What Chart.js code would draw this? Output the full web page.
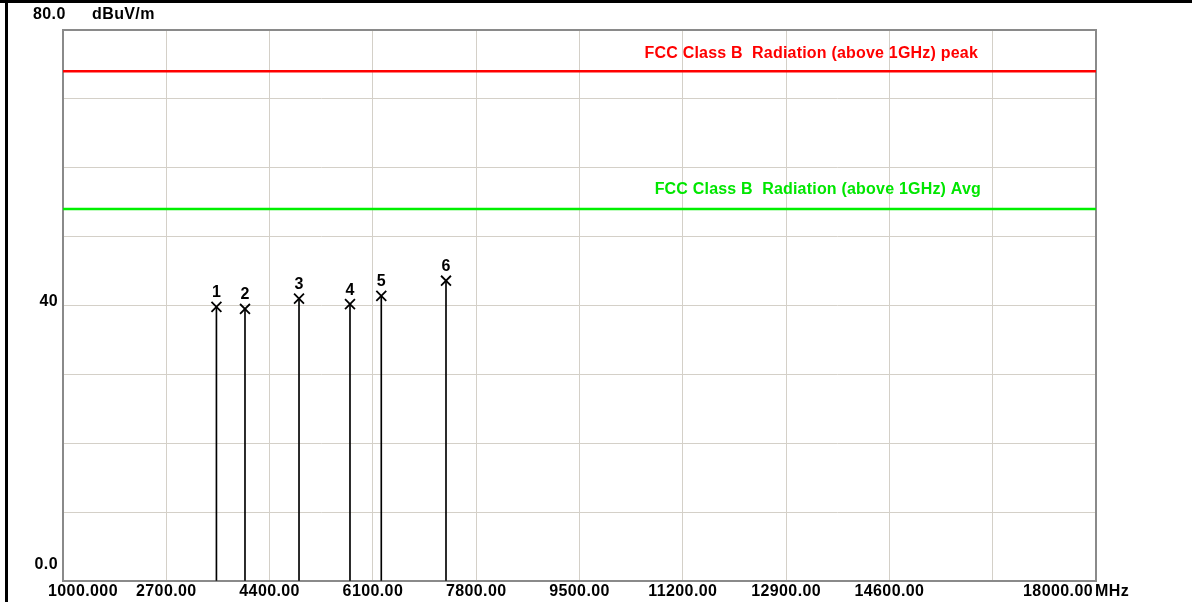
<!DOCTYPE html>
<html>
<head>
<meta charset="utf-8">
<script src="https://cdn.jsdelivr.net/npm/chart.js@4.4.0/dist/chart.umd.min.js"></script>
<style>
    html, body { margin: 0; padding: 0; background: #fff; overflow: hidden; }
    canvas { display: block; }
</style>
</head>
<body>
<canvas id="emiChart" width="1192" height="602"></canvas>
<script>
// Radiated emission scan 1 - 18 GHz

const markerNames = ['1', '2', '3', '4', '5', '6'];
const markerFreq = [3525, 3995, 4884, 5723, 6238, 7303];
const markerLevel = [39.8, 39.5, 41.0, 40.2, 41.4, 43.6];

const limitFreq = [1000, 18000];
const peakLimit = [74, 74];
const avgLimit = [54, 54];
const peakLabel = 'FCC Class B  Radiation (above 1GHz) peak';
const avgLabel = 'FCC Class B  Radiation (above 1GHz) Avg';

const xTicks = [1000, 2700, 4400, 6100, 7800, 9500, 11200, 12900, 14600, 16300, 18000];
const xTickLabels = ['1000.000', '2700.00', '4400.00', '6100.00', '7800.00', '9500.00',
    '11200.00', '12900.00', '14600.00', '', '18000.00'];
const yTicks = [0, 10, 20, 30, 40, 50, 60, 70, 80];
const yTickLabels = ['0.0', '', '', '', '40', '', '', '', '80.0'];

const FONT = 'bold 16px "Liberation Sans", Arial, sans-serif';

// Frame, plot border and all the text
const emiDecor = {
    id: 'emiDecor',
    beforeDatasetsDraw(chart) {
        const { ctx, chartArea: a } = chart;
        ctx.save();
        ctx.strokeStyle = '#8a8a8a';
        ctx.lineWidth = 2;
        ctx.strokeRect(a.left, a.top, a.right - a.left, a.bottom - a.top);
        ctx.restore();
    },
    afterDraw(chart) {
        const { ctx } = chart;
        const xs = chart.scales.x;
        const ys = chart.scales.y;
        ctx.save();

        // page frame
        ctx.fillStyle = '#000';
        ctx.fillRect(0, 0, 1192, 3);
        ctx.fillRect(5, 0, 3, 602);

        ctx.font = FONT;
        ctx.letterSpacing = '0.4px';
        ctx.fillStyle = '#000';
        ctx.textBaseline = 'middle';

        // x labels
        xTicks.forEach((v, i) => {
            const label = xTickLabels[i];
            if (!label) return;
            const px = xs.getPixelForValue(v);
            if (i === 0) {
                ctx.textAlign = 'left';
                ctx.fillText(label, px - 15, 592);
            } else if (i === xTicks.length - 1) {
                ctx.textAlign = 'right';
                ctx.fillText(label, px - 3, 592);
                ctx.textAlign = 'left';
                ctx.fillText('MHz', px - 1, 592);
            } else {
                ctx.textAlign = 'center';
                ctx.fillText(label, px, 592);
            }
        });

        // y labels
        yTicks.forEach((v, i) => {
            const label = yTickLabels[i];
            if (!label) return;
            const py = ys.getPixelForValue(v);
            if (v === 80) {
                ctx.textAlign = 'left';
                ctx.fillText(label, 33, py - 15);
            } else {
                ctx.textAlign = 'right';
                ctx.fillText(label, 58, v === 0 ? py - 16 : py - 4);
            }
        });
        ctx.textAlign = 'left';
        ctx.fillText('dBuV/m', 92, 15);

        // limit line captions
        ctx.letterSpacing = '0.2px';
        ctx.textAlign = 'right';
        ctx.fillStyle = '#ff0000';
        ctx.fillText(peakLabel, 978, ys.getPixelForValue(peakLimit[0]) - 18);
        ctx.fillStyle = '#00e600';
        ctx.fillText(avgLabel, 981, ys.getPixelForValue(avgLimit[0]) - 19);

        // marker numbers
        ctx.fillStyle = '#000';
        ctx.textAlign = 'center';
        markerNames.forEach((n, i) => {
            ctx.fillText(n, xs.getPixelForValue(markerFreq[i]), ys.getPixelForValue(markerLevel[i]) - 14);
        });
        ctx.restore();
    }
};

const points = markerFreq.map((f, i) => ({ x: f, y: markerLevel[i] }));

new Chart(document.getElementById('emiChart'), {
    type: 'scatter',
    data: {
        datasets: [
            {
                type: 'line',
                data: limitFreq.map((f, i) => ({ x: f, y: peakLimit[i] })),
                borderColor: '#ff0000',
                borderWidth: 2.5,
                pointRadius: 0
            },
            {
                type: 'line',
                data: limitFreq.map((f, i) => ({ x: f, y: avgLimit[i] })),
                borderColor: '#00f000',
                borderWidth: 2.5,
                pointRadius: 0
            },
            {
                type: 'bar',
                data: points,
                backgroundColor: '#000',
                barThickness: 1,
                borderWidth: 0
            },
            {
                type: 'scatter',
                data: points,
                pointStyle: 'crossRot',
                pointRadius: 7,
                borderColor: '#000',
                borderWidth: 1.8
            }
        ]
    },
    options: {
        responsive: false,
        animation: false,
        layout: { padding: { top: 30, right: 96, left: 0, bottom: 0 } },
        plugins: {
            legend: { display: false },
            tooltip: { enabled: false }
        },
        scales: {
            x: {
                type: 'linear',
                min: 1000,
                max: 18000,
                offset: false,
                afterBuildTicks(s) { s.ticks = xTicks.map(v => ({ value: v })); },
                afterFit(s) { s.height = 21; },
                ticks: { display: false },
                grid: { color: '#d4d0c8', lineWidth: 1, drawTicks: false, offset: false },
                border: { display: false }
            },
            y: {
                min: 0,
                max: 80,
                afterBuildTicks(s) { s.ticks = yTicks.map(v => ({ value: v })); },
                afterFit(s) { s.width = 63; },
                ticks: { display: false },
                grid: { color: '#d4d0c8', lineWidth: 1, drawTicks: false },
                border: { display: false }
            }
        }
    },
    plugins: [emiDecor]
});
</script>
</body>
</html>
